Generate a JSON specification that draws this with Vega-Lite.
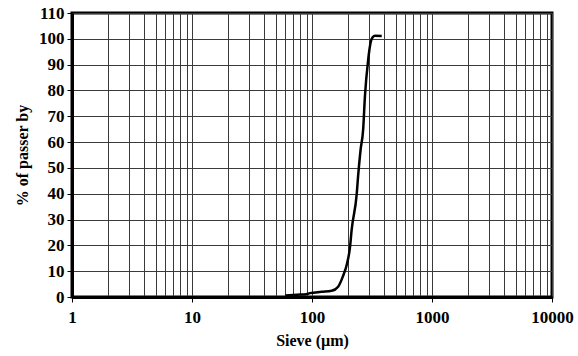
{
  "$schema": "https://vega.github.io/schema/vega-lite/v6.json",
  "width": 480,
  "height": 284,
  "autosize": {"type": "none"},
  "padding": {"left": 72, "top": 13, "right": 26, "bottom": 59},
  "background": "white",
  "config": {
    "view": {"stroke": "black", "strokeWidth": 3},
    "axis": {
      "labelFont": "Liberation Serif",
      "titleFont": "Liberation Serif",
      "labelFontSize": 17,
      "titleFontSize": 16,
      "labelFontWeight": "bold",
      "titleFontWeight": "bold",
      "labelColor": "black",
      "titleColor": "black",
      "domainColor": "black",
      "domainWidth": 3,
      "tickColor": "black",
      "tickWidth": 1,
      "gridColor": "#3a3a3a",
      "gridWidth": 1,
      "gridOpacity": 1
    }
  },
  "data": {
    "values": [
      {"size": 60, "pass": 0.6},
      {"size": 75, "pass": 0.9},
      {"size": 90, "pass": 1.1},
      {"size": 96, "pass": 1.5},
      {"size": 120, "pass": 2.0},
      {"size": 146, "pass": 2.4},
      {"size": 165, "pass": 4},
      {"size": 181, "pass": 8},
      {"size": 196, "pass": 13},
      {"size": 207, "pass": 19},
      {"size": 214, "pass": 26},
      {"size": 236, "pass": 40},
      {"size": 242, "pass": 46.6},
      {"size": 254, "pass": 57},
      {"size": 267, "pass": 65},
      {"size": 276, "pass": 77.6},
      {"size": 294, "pass": 92},
      {"size": 308, "pass": 98.6},
      {"size": 320, "pass": 100.6},
      {"size": 335, "pass": 101.2},
      {"size": 381, "pass": 101.1}
    ]
  },
  "mark": {"type": "line", "color": "black", "strokeWidth": 2.5, "interpolate": "monotone"},
  "encoding": {
    "x": {
      "field": "size",
      "type": "quantitative",
      "scale": {"type": "log", "domain": [1, 10000], "nice": false},
      "axis": {
        "title": "Sieve (µm)",
        "values": [1,2,3,4,5,6,7,8,9,10,20,30,40,50,60,70,80,90,100,200,300,400,500,600,700,800,900,1000,2000,3000,4000,5000,6000,7000,8000,9000,10000],
        "labelExpr": "indexof([1,10,100,1000,10000], datum.value) >= 0 ? format(datum.value, 'd') : ''",
        "labelOverlap": false,
        "labelBound": false,
        "labelFlush": false,
        "tickSize": 5,
        "tickColor": {"condition": {"test": "indexof([1,10,100,1000,10000], datum.value) >= 0", "value": "black"}, "value": "transparent"},
        "labelPadding": 7,
        "titlePadding": 7,
        "grid": true
      }
    },
    "y": {
      "field": "pass",
      "type": "quantitative",
      "scale": {"domain": [0, 110], "nice": false},
      "axis": {
        "title": "% of passer by",
        "values": [0,10,20,30,40,50,60,70,80,90,100,110],
        "tickSize": 5,
        "labelPadding": 3,
        "titlePadding": 8,
        "grid": true
      }
    }
  }
}
